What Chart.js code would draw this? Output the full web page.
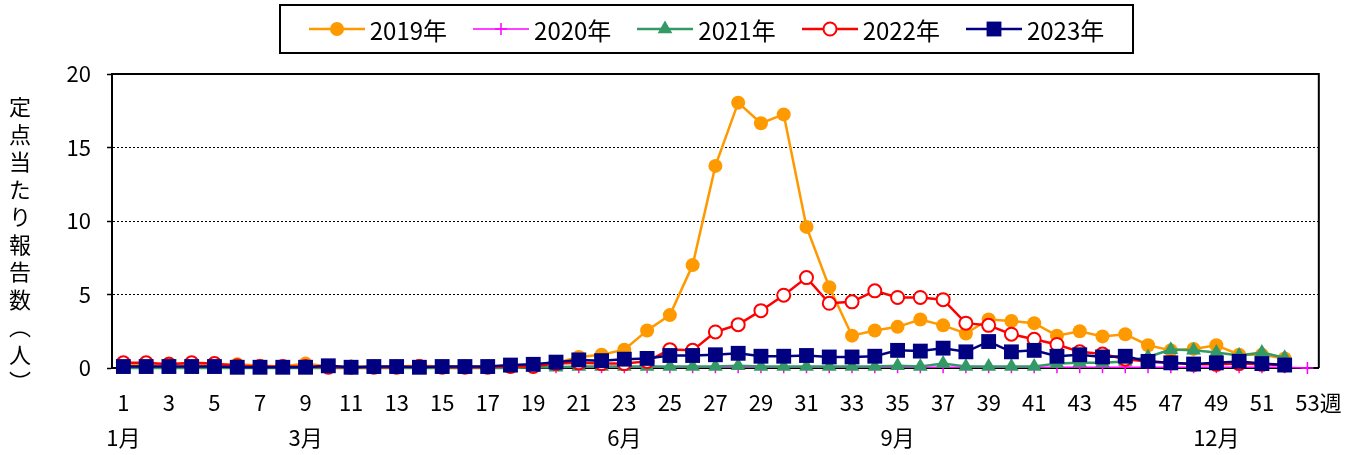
<!DOCTYPE html>
<html>
<head>
<meta charset="utf-8">
<script src="https://cdn.jsdelivr.net/npm/chart.js@4"></script>
<style>
  body { margin: 0; background: #fff; }
  #wrap { position: relative; width: 1359px; height: 455px; }
  #chart { position: absolute; left: 0; top: 0; }
  #ytitle {
    position: absolute; left: 9px; top: 96px;
    writing-mode: vertical-rl; text-orientation: upright;
    font: 22px "Noto Sans CJK JP"; line-height: 1; letter-spacing: 5.5px; color: #000;
  }
  #legend {
    position: absolute; left: 279px; top: 4px; width: 851px; height: 46px;
    border: 2px solid #000; display: flex; align-items: center; justify-content: center;
    font: 24px "Noto Sans CJK JP"; color: #000;
  }
  .item { display: flex; align-items: center; margin: 0 13px; }
  .item canvas { margin-right: 5px; }
</style>
</head>
<body>
<div id="wrap">
  <canvas id="chart" width="1359" height="455"></canvas>
  <div id="ytitle">定点当たり報告数（人）</div>
  <div id="legend"></div>
</div>
<script>
const weeks = ['1','2','3','4','5','6','7','8','9','10','11','12','13','14','15','16','17','18','19','20',
  '21','22','23','24','25','26','27','28','29','30','31','32','33','34','35','36','37','38','39','40',
  '41','42','43','44','45','46','47','48','49','50','51','52','53'];
const monthWeeks = [1, 9, 23, 35, 49];
const monthNames = ['1月', '3月', '6月', '9月', '12月'];
const yTicks = [0, 5, 10, 15, 20];

const y2019 = [0.2,0.2,0.3,0.25,0.2,0.25,0.15,0.1,0.3,0.1,0.1,0.1,0.1,0.15,0.1,0.1,0.1,0.15,0.2,0.35,
  0.75,0.9,1.25,2.55,3.6,7.0,13.75,18.05,16.65,17.25,9.6,5.5,2.2,2.55,2.8,3.3,2.9,2.35,3.3,3.2,
  3.05,2.2,2.5,2.15,2.3,1.55,1.2,1.3,1.55,0.9,0.9,0.65];
const y2020 = [0.1,0.1,0.1,0.1,0.1,0.1,0.1,0.05,0.05,0.05,0.05,0.05,0.05,0.05,0.05,0.05,0.05,0.05,0.05,0.05,
  0.05,0.05,0.05,0.05,0.05,0.05,0.05,0.05,0.05,0.05,0.05,0.05,0.05,0.05,0.05,0.05,0.05,0.05,0.05,0.05,
  0.05,0.05,0.05,0.05,0.05,0.05,0.05,0.05,0.05,0.05,0.05,0.05,0.0];
const y2021 = [0,0,0,0,0,0,0,0,0,0,0,0,0,0,0,0,0,0,0.05,0.05,
  0.1,0.1,0.1,0.1,0.1,0.1,0.1,0.15,0.1,0.1,0.1,0.1,0.1,0.1,0.15,0.1,0.3,0.1,0.1,0.1,
  0.1,0.3,0.35,0.35,0.45,0.75,1.25,1.2,1.05,0.85,1.05,0.7];
const y2022 = [0.35,0.35,0.25,0.35,0.3,0.15,0.1,0.1,0.1,0.05,0.05,0.05,0.05,0.1,0.05,0.05,0.05,0.1,0.1,0.3,
  0.35,0.3,0.3,0.45,1.25,1.2,2.45,2.95,3.9,4.95,6.15,4.4,4.5,5.25,4.8,4.8,4.65,3.05,2.9,2.3,
  1.95,1.6,1.1,0.95,0.6,0.45,0.35,0.25,0.25,0.3,0.25,0.2];
const y2023 = [0.1,0.1,0.1,0.1,0.1,0.05,0.05,0.05,0.05,0.15,0.05,0.1,0.1,0.05,0.1,0.1,0.1,0.2,0.25,0.4,
  0.55,0.5,0.6,0.65,0.85,0.85,0.9,1.0,0.8,0.8,0.85,0.75,0.75,0.8,1.2,1.15,1.35,1.1,1.8,1.1,
  1.2,0.8,0.9,0.75,0.8,0.45,0.35,0.27,0.35,0.45,0.3,0.2];

const FONT = '"Noto Sans CJK JP", "Noto Sans", sans-serif';

const series = [
  { label: '2019年', data: y2019, color: '#FF9900', fill: '#FF9900', style: 'circle', r: 7, lw: 2.5, pbw: 0, order: 5 },
  { label: '2020年', data: y2020, color: '#FF00FF', fill: '#FF00FF', style: 'cross', r: 6, lw: 1.5, pbw: 1.5, order: 4 },
  { label: '2021年', data: y2021, color: '#339966', fill: '#339966', style: 'triangle', r: 8.5, lw: 2.5, pbw: 0, order: 3 },
  { label: '2022年', data: y2022, color: '#FF0000', fill: '#FFFFFF', style: 'circle', r: 6.5, lw: 2.5, pbw: 2, order: 2 },
  { label: '2023年', data: y2023, color: '#000080', fill: '#000080', style: 'rect', r: 10.5, lw: 2.5, pbw: 0, order: 1 }
];

// legend: short line with the marker in the middle
const legend = document.getElementById('legend');
series.forEach(s => {
  const item = document.createElement('div');
  item.className = 'item';
  const c = document.createElement('canvas');
  c.width = 56; c.height = 24;
  const g = c.getContext('2d');
  g.strokeStyle = s.color; g.lineWidth = s.lw;
  g.beginPath(); g.moveTo(0, 12); g.lineTo(56, 12); g.stroke();
  g.fillStyle = s.fill; g.lineWidth = s.pbw;
  g.beginPath();
  if (s.style === 'circle') g.arc(28, 12, s.r, 0, Math.PI * 2);
  else if (s.style === 'rect') { const h = s.r * Math.SQRT1_2; g.rect(28 - h, 12 - h, 2 * h, 2 * h); }
  else if (s.style === 'triangle') {
    g.moveTo(28, 12 - s.r);
    g.lineTo(28 + s.r * Math.sin(2 * Math.PI / 3), 12 + s.r / 2);
    g.lineTo(28 - s.r * Math.sin(2 * Math.PI / 3), 12 + s.r / 2);
    g.closePath();
  } else { g.moveTo(28, 12 - s.r); g.lineTo(28, 12 + s.r); g.moveTo(28 - s.r, 12); g.lineTo(28 + s.r, 12); }
  if (s.style !== 'cross') g.fill();
  if (s.pbw) g.stroke();
  item.appendChild(c);
  const t = document.createElement('span');
  t.textContent = s.label;
  item.appendChild(t);
  legend.appendChild(item);
});

const frame = {
  id: 'frame',
  beforeDatasetsDraw(chart) {
    const { ctx, chartArea: a } = chart;
    ctx.save();
    ctx.strokeStyle = '#000';
    ctx.lineWidth = 2;
    ctx.beginPath();
    ctx.moveTo(a.left, a.top);
    ctx.lineTo(a.right, a.top);
    ctx.lineTo(a.right, a.bottom);
    ctx.stroke();
    ctx.restore();
  }
};

new Chart(document.getElementById('chart'), {
  type: 'line',
  data: {
    labels: weeks,
    datasets: series.map(s => ({
      label: s.label,
      data: s.data,
      borderColor: s.color,
      backgroundColor: s.fill,
      borderWidth: s.lw,
      pointStyle: s.style,
      pointRadius: s.r,
      pointBackgroundColor: s.fill,
      pointBorderColor: s.color,
      pointBorderWidth: s.pbw,
      tension: 0,
      clip: false,
      order: s.order
    }))
  },
  options: {
    responsive: false,
    animation: false,
    layout: { padding: { left: 0, right: 38, top: 74, bottom: 0 } },
    plugins: { legend: { display: false }, tooltip: { enabled: false } },
    scales: {
      x: {
        offset: true,
        grid: { display: false, drawTicks: false },
        border: { color: '#000', width: 2 },
        ticks: {
          autoSkip: false, maxRotation: 0, padding: 17, color: '#000',
          font: { family: FONT, size: 22, lineHeight: 1.6 },
          callback: (v, i) => {
            const w = i + 1;
            let top = w % 2 === 1 ? weeks[i] : '';
            if (w === 53) top = '\u300053週';
            const m = monthWeeks.indexOf(w);
            return m >= 0 ? [top, monthNames[m]] : top;
          }
        },
        afterFit: s => { s.height = 87; }
      },
      y: {
        min: 0, max: 20,
        afterBuildTicks: s => { s.ticks = yTicks.map(v => ({ value: v })); },
        ticks: { padding: 16, color: '#000', font: { family: FONT, size: 22 } },
        grid: {
          color: c => (c.tick.value === 0 || c.tick.value === 20) ? 'rgba(0,0,0,0)' : '#000',
          lineWidth: 1, tickColor: '#000', tickLength: 5, tickWidth: 1.5
        },
        border: { color: '#000', width: 2, dash: [2, 2] },
        afterFit: s => { s.width = 112; }
      }
    }
  },
  plugins: [frame]
});
</script>
</body>
</html>
